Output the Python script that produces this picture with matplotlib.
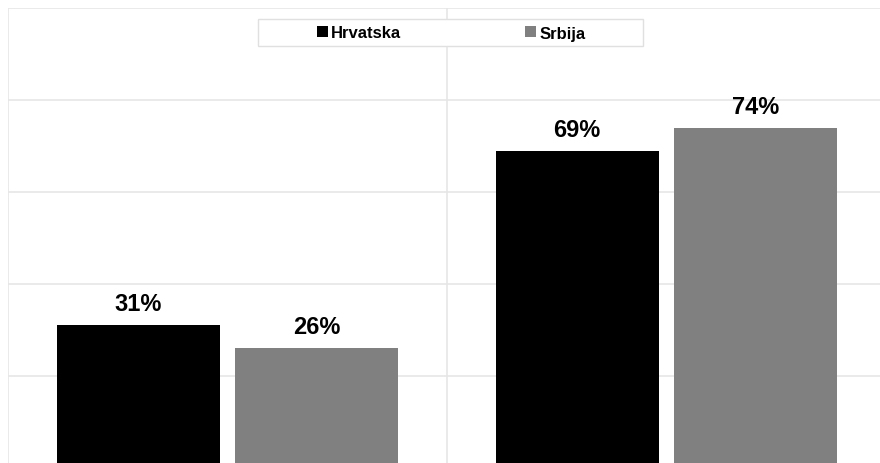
import numpy as np
import matplotlib
matplotlib.use('Agg')
import matplotlib.pyplot as plt
from matplotlib.patches import Rectangle

plt.rcParams['font.family'] = ['Liberation Sans', 'DejaVu Sans']

# data
groups = ['A', 'B']
hrvatska = [31, 69]
srbija = [26, 74]
series_names = ['Hrvatska', 'Srbija']
colors = ['#000000', '#808080']

W, H = 880, 464
fig = plt.figure(figsize=(W / 100, H / 100), dpi=100)

# plot area runs a bit past the bottom and right edges
left_px, right_px, top_px, bottom_px = 8, 886, 9, 469
ax = fig.add_axes([left_px / W, 1 - bottom_px / H,
                   (right_px - left_px) / W, (bottom_px - top_px) / H])

x = np.arange(len(groups))
bw = 0.371
off = bw / 2 + 0.018

grid_c = '#e6e6e6'
for yv in range(0, 101, 20):
    ax.axhline(yv, color=grid_c, lw=1.2, zorder=0)
for xv in [-0.5, 0.5, 1.5]:
    ax.axvline(xv, color=grid_c, lw=1.2, zorder=0)

b1 = ax.bar(x - off, hrvatska, bw, color=colors[0], zorder=2)
b2 = ax.bar(x + off, srbija, bw, color=colors[1], zorder=2)

for bars, vals in [(b1, hrvatska), (b2, srbija)]:
    for r, v in zip(bars, vals):
        ax.annotate(f'{v}%', (r.get_x() + r.get_width() / 2, v),
                    xytext=(0, 15), textcoords='offset pixels',
                    ha='center', va='baseline', fontsize=17, fontweight='bold')

ax.set_xlim(-0.5, 1.5)
ax.set_ylim(0, 100)
ax.axis('off')

# legend box
fig.patches.append(Rectangle((258 / W, 1 - 47 / H), (643 - 258) / W, 27 / H,
                             transform=fig.transFigure, facecolor='white',
                             edgecolor='#e0e0e0', lw=1, zorder=3))
leg = fig.legend([b1, b2], series_names, loc='center', ncol=2,
                 bbox_to_anchor=(451 / W, 1 - 34 / H), frameon=False,
                 prop={'size': 12, 'weight': 'bold'},
                 handlelength=0.68, handleheight=0.68, handletextpad=0.2,
                 columnspacing=7.4, borderpad=0)
leg.set_zorder(4)

fig.savefig('out.png', dpi=100)
